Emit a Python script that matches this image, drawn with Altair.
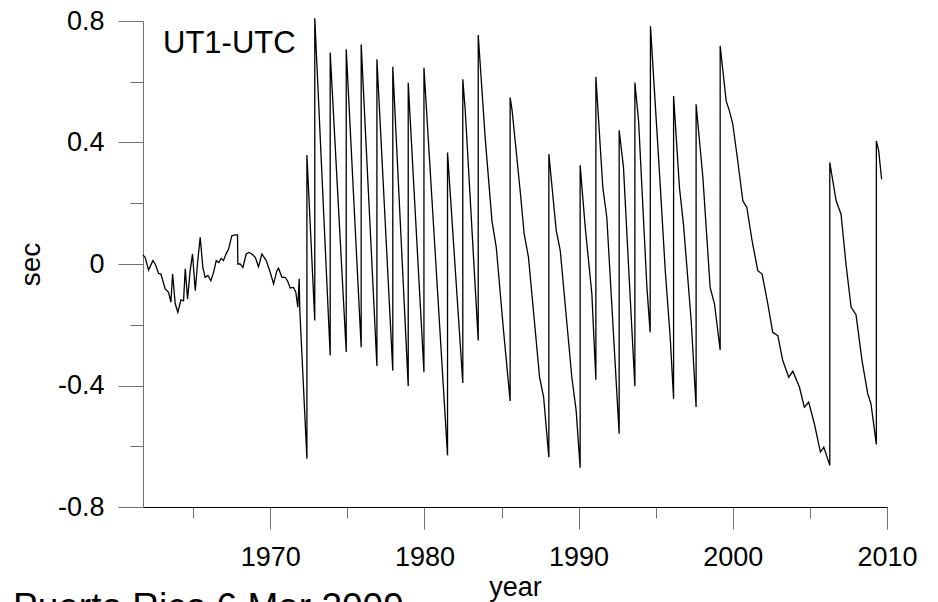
import altair as alt
import pandas as pd

# UT1-UTC (seconds)
pre_years = [1961.74, 1961.89, 1962.11, 1962.39, 1962.54, 1962.76, 1962.91,
             1963.19, 1963.41, 1963.56, 1963.67, 1963.84,
             1964.01, 1964.21, 1964.38, 1964.49, 1964.64, 1964.81, 1964.96,
             1965.14, 1965.29, 1965.46, 1965.63, 1965.78, 1965.96,
             1966.15, 1966.33, 1966.50, 1966.67, 1966.82, 1966.97,
             1967.15, 1967.30, 1967.51, 1967.73, 1967.88, 1967.90,
             1968.05, 1968.23, 1968.44, 1968.62, 1968.81,
             1969.03, 1969.24, 1969.46, 1969.74,
             1970.00, 1970.22, 1970.43, 1970.54, 1970.76, 1970.97,
             1971.12, 1971.30, 1971.51, 1971.66, 1971.79, 1971.88, 1971.92]
pre_vals = [0.030, 0.022, -0.020, 0.011, 0.000, -0.031, -0.033,
            -0.082, -0.093, -0.126, -0.033, -0.131,
            -0.159, -0.118, -0.121, -0.016, -0.115, -0.022, 0.033,
            -0.088, 0.005, 0.088, -0.011, -0.044, -0.038,
            -0.055, -0.027, 0.011, 0.005, 0.019, 0.011,
            0.035, 0.049, 0.093, 0.096, 0.096, 0.000,
            0.000, -0.011, 0.033, 0.038, 0.033,
            0.022, -0.009, 0.033, 0.011,
            -0.027, -0.066, -0.022, -0.014, -0.044, -0.044,
            -0.055, -0.079, -0.077, -0.093, -0.142, -0.049, -0.153]

leap_years = [1972.38, 1972.38, 1972.89, 1972.89, 1973.89, 1973.89, 1974.93, 1974.93,
              1975.90, 1975.90, 1976.92, 1976.92, 1977.95, 1977.95, 1978.95, 1978.95,
              1979.97, 1979.97, 1981.50, 1981.50, 1982.49, 1982.49, 1982.65,
              1983.49, 1983.49, 1983.94, 1984.38, 1984.66, 1985.13, 1985.56, 1985.56,
              1985.69, 1986.21, 1986.47, 1986.75, 1987.47, 1987.73, 1988.07, 1988.07,
              1988.55, 1988.81, 1989.56, 1989.84, 1990.10, 1990.10, 1990.43, 1990.86,
              1991.12, 1991.12, 1991.57, 1991.83, 1992.63, 1992.63, 1992.91, 1993.30,
              1993.65, 1993.65, 1993.89, 1994.43, 1994.64, 1994.66, 1995.25, 1995.62,
              1995.94, 1996.16, 1996.16, 1996.54, 1996.80, 1997.30, 1997.62, 1997.62,
              1998.06, 1998.53, 1998.81, 1999.18, 1999.18]
leap_vals = [-0.641, 0.359, -0.186, 0.809, -0.301, 0.696, -0.290, 0.707,
             -0.274, 0.723, -0.336, 0.674, -0.351, 0.649, -0.402, 0.597,
             -0.356, 0.646, -0.630, 0.367, -0.392, 0.608, 0.504,
             -0.252, 0.754, 0.416, 0.142, 0.055, -0.219, -0.451, 0.548,
             0.504, 0.241, 0.099, 0.022, -0.373, -0.438, -0.636, 0.362,
             0.110, 0.044, -0.373, -0.482, -0.671, 0.325, 0.121, -0.099,
             -0.381, 0.616, 0.252, 0.153, -0.559, 0.440, 0.318, -0.066,
             -0.402, 0.597, 0.471, -0.077, -0.225, 0.783, 0.296, -0.022,
             -0.241, -0.444, 0.553, 0.252, 0.131, -0.186, -0.471, 0.526,
             0.285, -0.077, -0.131, -0.283, 0.718]

late_years = [1999.57, 1999.78, 2000.00, 2000.32, 2000.65, 2000.91, 2001.25, 2001.62,
              2001.90, 2002.27, 2002.59, 2002.92, 2003.24, 2003.63, 2003.89, 2004.32,
              2004.64, 2004.92, 2005.29, 2005.68, 2005.90, 2006.29, 2006.29, 2006.70,
              2007.02, 2007.34, 2007.67, 2007.99, 2008.38, 2008.75, 2008.96, 2009.31,
              2009.31, 2009.46, 2009.65]
late_vals = [0.537, 0.504, 0.460, 0.340, 0.208, 0.186, 0.077, -0.022,
             -0.033, -0.131, -0.225, -0.236, -0.318, -0.373, -0.353, -0.405,
             -0.471, -0.455, -0.526, -0.619, -0.603, -0.663, 0.334, 0.208,
             0.164, 0.000, -0.142, -0.167, -0.318, -0.427, -0.460, -0.594,
             0.405, 0.373, 0.279]

x_ticks = [1965, 1970, 1975, 1980, 1985, 1990, 1995, 2000, 2005, 2010]
y_ticks = [-0.8, -0.6, -0.4, -0.2, 0, 0.2, 0.4, 0.6, 0.8]

FONT = "Liberation Sans"

df = pd.DataFrame({
    "year": pre_years + leap_years + late_years,
    "sec": pre_vals + leap_vals + late_vals,
})
df["i"] = range(len(df))

line = alt.Chart(df).mark_line(color="black", strokeWidth=1.3).encode(
    x=alt.X(
        "year:Q",
        scale=alt.Scale(domain=[1961.75, 2010], nice=False, zero=False),
        axis=alt.Axis(
            values=x_ticks,
            labelExpr="datum.value % 10 == 0 ? '' + datum.value : ''",
            tickSize={"condition": {"test": "datum.value % 10 == 0", "value": 22}, "value": 11},
            tickColor="#707070",
            domainColor="black",
            grid=False,
            labelFont=FONT,
            labelFontSize=27,
            labelColor="black",
            labelPadding=15,
            labelFlush=False,
            labelOverlap=False,
            title="year",
            titleFont=FONT,
            titleFontSize=27,
            titleFontWeight="normal",
            titleColor="black",
            titleX=372,
            titleY=88,
            titleAlign="center",
            titleBaseline="alphabetic",
        ),
    ),
    y=alt.Y(
        "sec:Q",
        scale=alt.Scale(domain=[-0.8, 0.8], nice=False, zero=False),
        axis=alt.Axis(
            values=y_ticks,
            labelExpr="round(datum.value * 10) % 4 == 0 ? '' + datum.value : ''",
            tickSize={"condition": {"test": "round(datum.value * 10) % 4 == 0", "value": 25}, "value": 13},
            tickColor="#707070",
            domainColor="#707070",
            grid=False,
            labelFont=FONT,
            labelFontSize=27,
            labelColor="black",
            labelPadding=14,
            labelFlush=False,
            labelOverlap=False,
            title="sec",
            titleFont=FONT,
            titleFontSize=28,
            titleFontWeight="normal",
            titleColor="black",
            titleAngle=270,
            titleX=-104,
            titleY=243,
            titleAlign="center",
            titleBaseline="alphabetic",
        ),
    ),
    order="i:Q",
)

label = alt.Chart(pd.DataFrame({"t": ["UT1-UTC"]})).mark_text(
    align="left", baseline="alphabetic", font=FONT, fontSize=31, color="black"
).encode(text="t:N", x=alt.value(20), y=alt.value(32))

footer = alt.Chart(pd.DataFrame({"t": ["Puerto Rico 6 Mar 2009"]})).mark_text(
    align="left", baseline="alphabetic", font=FONT, fontSize=37, color="black"
).encode(text="t:N", x=alt.value(-130), y=alt.value(598))

chart = alt.layer(line, label, footer).properties(
    width=744,
    height=486,
    autosize=alt.AutoSizeParams(type="none"),
    padding={"left": 135, "top": 13, "right": 43, "bottom": 95},
).configure_view(stroke=None)

chart.save("out.html", embed_options={"renderer": "svg", "actions": False})
